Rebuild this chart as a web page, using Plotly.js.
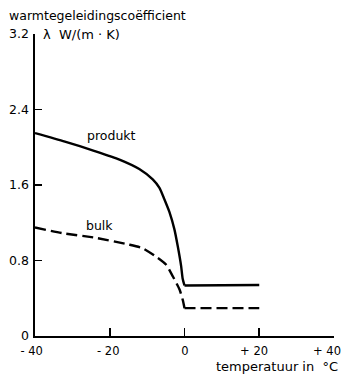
<!DOCTYPE html>
<html>
<head>
<meta charset="utf-8">
<script src="https://cdn.plot.ly/plotly-3.0.1.min.js"></script>
<style>html,body{margin:0;padding:0;background:#fff;}#chart{width:344px;height:376px;}</style>
</head>
<body>
<div id="chart"></div>
<script>
// Data
const produktTemp = [-40, -32, -24, -17.4, -12.1, -8.5, -6.7, -5.4, -4.0, -2.7, -1.8, -0.9, -0.5, 0, 20];
const produktLambda = [2.15, 2.06, 1.96, 1.87, 1.77, 1.66, 1.57, 1.45, 1.31, 1.13, 0.95, 0.74, 0.61, 0.535, 0.54];
const bulkTemp = [-40, -32.7, -23.7, -15.0, -11.2, -7.6, -4.9, -3.1, -1.3, -0.45, 0, 20];
const bulkLambda = [1.15, 1.09, 1.04, 0.97, 0.93, 0.84, 0.755, 0.63, 0.49, 0.38, 0.295, 0.295];
const xTickVals = [-40, -20, 0, 20, 40];
const NB = '\u00a0';
const xTickText = [NB + NB + '- 40', NB + NB + NB + '- 20', NB + NB + NB + NB + '0', NB + '+ 20', '+ 40'];
const yTickVals = [0, 0.8, 1.6, 2.4, 3.2];
const yTickText = ['0', '0.8', '1.6', '2.4', '3.2'];
const seriesNames = ['produkt', 'bulk'];
const labelPos = {produkt: [-19.6, 2.12], bulk: [-22.8, 1.17]};

const FONT = 'DejaVu Sans, sans-serif';
const FS = 12.5;

// split each series at the melting point: smooth curve below 0 °C, straight line above
function split(xs, ys) {
  const k = xs.indexOf(0);
  return [[xs.slice(0, k + 1), ys.slice(0, k + 1)], [xs.slice(k), ys.slice(k)]];
}
const [pCurve, pFlat] = split(produktTemp, produktLambda);
const [bCurve, bFlat] = split(bulkTemp, bulkLambda);
const solid = {color: '#000', width: 2.4};
const dashed = {color: '#000', width: 2.4, dash: '11px,5px'};
const traces = [
  {x: pCurve[0], y: pCurve[1], mode: 'lines', name: seriesNames[0], line: Object.assign({shape: 'spline', smoothing: 0.6}, solid), hoverinfo: 'skip'},
  {x: pFlat[0], y: pFlat[1], mode: 'lines', name: seriesNames[0], line: solid, hoverinfo: 'skip'},
  {x: bCurve[0], y: bCurve[1], mode: 'lines', name: seriesNames[1], line: Object.assign({shape: 'spline', smoothing: 0.6}, dashed), hoverinfo: 'skip'},
  {x: bFlat[0], y: bFlat[1], mode: 'lines', name: seriesNames[1], line: dashed, hoverinfo: 'skip'}
];
const layout = {
  width: 344, height: 376,
  margin: {l: 35, r: 10, t: 34, b: 40},
  paper_bgcolor: '#fff', plot_bgcolor: '#fff',
  showlegend: false,
  font: {family: FONT, size: FS, color: '#000'},
  title: {text: 'warmtegeleidingscoëfficient', x: 9/344, xanchor: 'left',
          y: 1 - 16/376, yanchor: 'middle', xref: 'container', yref: 'container',
          font: {family: FONT, size: FS, color: '#000'}},
  xaxis: {range: [-40, 40], tickvals: xTickVals, ticktext: xTickText,
          ticks: 'inside', ticklen: 8, tickwidth: 1.6, tickcolor: '#000',
          showline: true, linecolor: '#000', linewidth: 1.6,
          showgrid: false, zeroline: false, ticklabelstandoff: 4, ticklabelshift: -7,
          ticklabeloverflow: 'allow',
          tickfont: {family: FONT, size: 11.5, color: '#000'}},
  yaxis: {range: [0, 3.2], tickvals: yTickVals, ticktext: yTickText,
          ticks: 'inside', ticklen: 7, tickwidth: 1.6, tickcolor: '#000',
          showline: true, linecolor: '#000', linewidth: 1.6,
          showgrid: false, zeroline: false, ticklabelstandoff: 2, ticklabeloverflow: 'allow',
          tickfont: {family: FONT, size: FS, color: '#000'}},
  annotations: [
    {text: 'λ\u00a0 W/(m\u00a0·\u00a0K)', xref: 'paper', yref: 'paper', x: 6/299, y: 1, xanchor: 'left', yanchor: 'middle',
     showarrow: false, font: {family: FONT, size: 13, color: '#000'}},
    {text: 'temperatuur in\u00a0 °C', xref: 'paper', yref: 'paper', x: 1.02, y: -30/302, xanchor: 'right', yanchor: 'middle',
     showarrow: false, font: {family: FONT, size: 13, color: '#000'}},
    {text: seriesNames[0], x: labelPos.produkt[0], y: labelPos.produkt[1], xref: 'x', yref: 'y',
     showarrow: false, font: {family: FONT, size: FS, color: '#000'}},
    {text: seriesNames[1], x: labelPos.bulk[0], y: labelPos.bulk[1], xref: 'x', yref: 'y',
     showarrow: false, font: {family: FONT, size: FS, color: '#000'}}
  ]
};
Plotly.newPlot('chart', traces, layout, {staticPlot: true, displayModeBar: false});
</script>
</body>
</html>
